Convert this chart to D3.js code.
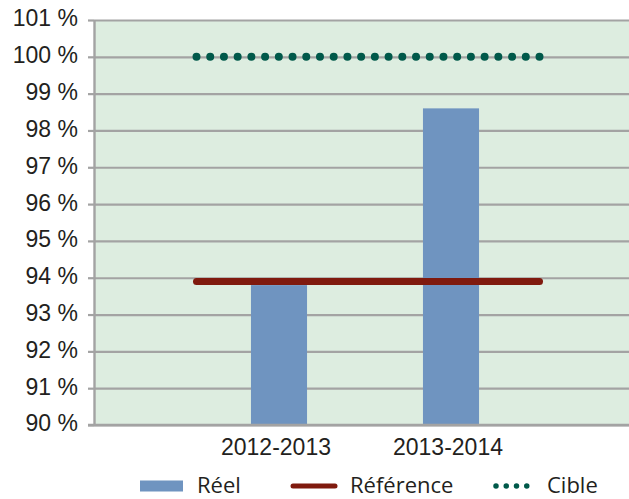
<!DOCTYPE html>
<html>
<head>
<meta charset="utf-8">
<script src="https://cdn.jsdelivr.net/npm/d3@7"></script>
<style>
  html, body { margin: 0; padding: 0; background: #ffffff; }
  svg { display: block; font-family: "Open Sans", sans-serif; }
</style>
</head>
<body>
<svg id="chart" width="629" height="499"></svg>
<script>
// Categories and series
const categories = ["2012-2013", "2013-2014"];
const reel = [93.8, 98.6];        // bars
const reference = 93.9;          // solid horizontal line
const cible = 100;               // dotted horizontal line
const yTicks = [90, 91, 92, 93, 94, 95, 96, 97, 98, 99, 100, 101];
const legendLabels = ["Réel", "Référence", "Cible"];

const colors = {
  plotBg: "#ddede0",
  grid: "#a3a3a3",
  bar: "#6f94c0",
  ref: "#7f1a0e",
  target: "#00594a",
  text: "#231f20"
};

const svg = d3.select("#chart");
const plot = { left: 94, right: 629, top: 20, bottom: 425 };

const y = d3.scaleLinear().domain([90, 101]).range([plot.bottom, plot.top]);
const x = d3.scaleBand().domain(categories).range([193, 537]);
const barWidth = x.bandwidth() * 0.326;

// plot background
svg.append("rect")
  .attr("x", plot.left).attr("y", plot.top)
  .attr("width", plot.right - plot.left).attr("height", plot.bottom - plot.top)
  .attr("fill", colors.plotBg);

// horizontal gridlines
const grid = svg.append("g")
  .attr("transform", `translate(${plot.left},0)`)
  .call(d3.axisLeft(y).tickValues(yTicks).tickSize(-(plot.right - plot.left)).tickFormat(""));
grid.select(".domain").remove();
grid.selectAll("line").attr("stroke", colors.grid).attr("stroke-width", 2.2);

// y axis with tick labels
const yAxis = svg.append("g")
  .attr("transform", `translate(${plot.left},0)`)
  .call(d3.axisLeft(y).tickValues(yTicks).tickSize(6).tickPadding(10).tickFormat(d => d + " %"));
yAxis.select(".domain").attr("stroke", colors.grid).attr("stroke-width", 2.4)
  .attr("d", `M0.5,${plot.top}V${plot.bottom + 1}`);
yAxis.selectAll("line").attr("stroke", colors.grid).attr("stroke-width", 2.2);
yAxis.selectAll("text")
  .attr("fill", colors.text).attr("font-size", 23)
  .attr("dy", "0.26em");

// bars
svg.append("g").selectAll("rect")
  .data(categories)
  .join("rect")
  .attr("x", d => x(d) + x.bandwidth() / 2 - barWidth / 2)
  .attr("y", (d, i) => y(reel[i]))
  .attr("width", barWidth)
  .attr("height", (d, i) => y(90) - y(reel[i]))
  .attr("fill", colors.bar);

// bottom axis line
svg.append("line")
  .attr("x1", plot.left - 6).attr("x2", plot.right)
  .attr("y1", y(90)).attr("y2", y(90))
  .attr("stroke", colors.grid).attr("stroke-width", 2.4);

// x axis labels
const xAxis = svg.append("g")
  .attr("transform", `translate(0,${plot.bottom})`)
  .call(d3.axisBottom(x).tickSize(0).tickPadding(14));
xAxis.select(".domain").remove();
xAxis.selectAll("text")
  .attr("fill", colors.text).attr("font-size", 23)
  .attr("dx", "-3");

// horizontal series lines span the category bands
const x0 = x(categories[0]) + 3.5;
const x1 = x(categories[categories.length - 1]) + x.bandwidth() + 2.5;

svg.append("line")
  .attr("x1", x0).attr("x2", x1)
  .attr("y1", y(reference)).attr("y2", y(reference))
  .attr("stroke", colors.ref).attr("stroke-width", 7)
  .attr("stroke-linecap", "round");

const dotGap = (x1 - x0) / 25;
svg.append("line")
  .attr("x1", x0).attr("x2", x1 + 0.5)
  .attr("y1", y(cible)).attr("y2", y(cible))
  .attr("stroke", colors.target).attr("stroke-width", 8)
  .attr("stroke-linecap", "round")
  .attr("stroke-dasharray", `0 ${dotGap}`);

// legend
const legendY = 486;
const legend = svg.append("g").attr("font-size", 22).attr("fill", colors.text);

legend.append("rect")
  .attr("x", 140).attr("y", legendY - 5.5)
  .attr("width", 43).attr("height", 11)
  .attr("fill", colors.bar);
legend.append("text").attr("x", 197).attr("y", legendY + 6.5).text(legendLabels[0]);

legend.append("line")
  .attr("x1", 293).attr("x2", 335)
  .attr("y1", legendY).attr("y2", legendY)
  .attr("stroke", colors.ref).attr("stroke-width", 5)
  .attr("stroke-linecap", "round");
legend.append("text").attr("x", 350).attr("y", legendY + 6.5).text(legendLabels[1]);

legend.append("line")
  .attr("x1", 496).attr("x2", 537)
  .attr("y1", legendY).attr("y2", legendY)
  .attr("stroke", colors.target).attr("stroke-width", 5.5)
  .attr("stroke-linecap", "round")
  .attr("stroke-dasharray", `0 ${41 / 4}`);
legend.append("text").attr("x", 547).attr("y", legendY + 6.5).text(legendLabels[2]);
</script>
</body>
</html>
